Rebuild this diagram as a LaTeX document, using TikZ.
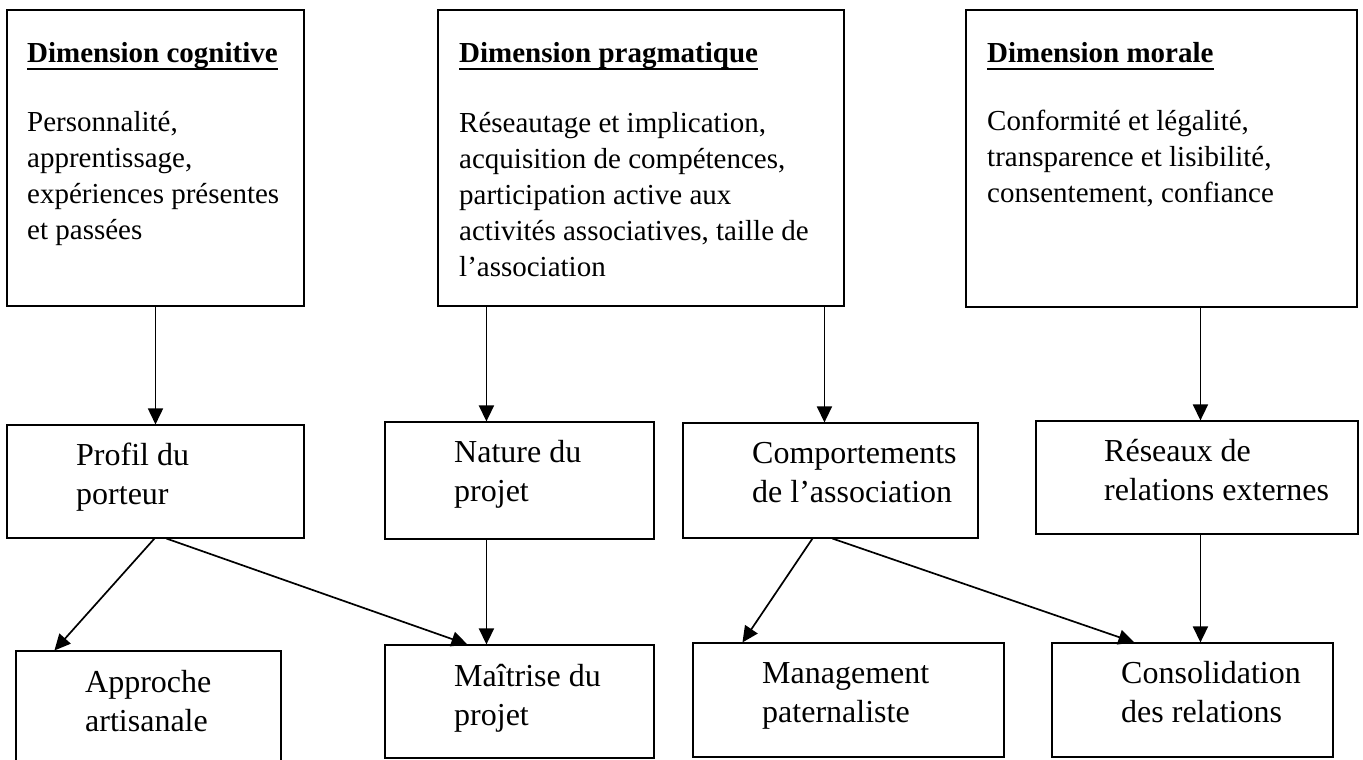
\documentclass[tikz,border=0pt]{standalone}
\usepackage{fontspec}
\setmainfont{Liberation Serif}
\usepackage{tikz}
\usetikzlibrary{arrows.meta}
\newcommand{\souligne}[1]{\setbox0\hbox{#1}\rlap{\rule[-7.5pt]{\wd0}{2.5pt}}\box0}

\begin{document}
\begin{tikzpicture}[x=1pt,y=-1pt]
      \useasboundingbox(0,0) rectangle (1363,760);
      \tikzset{B/.style = {shape=rectangle, draw, line width=1.1pt, inner sep=0pt}}
      \tikzset{T/.style = {anchor=base west, inner sep=0pt, align=left, font=\fontsize{29}{36}\selectfont}}
      \tikzset{L/.style = {anchor=base west, inner sep=0pt, align=left, font=\fontsize{32}{39}\selectfont}}
      \tikzset{E/.style = {draw, line width=1.7pt, -{Triangle[length=16pt,width=15pt]}}}
      % dimensions
      \node[B, minimum width=297pt, minimum height=296pt](cog) at (155.5,158) {};
      \node[B, minimum width=406pt, minimum height=296pt](prag) at (641,158) {};
      \node[B, minimum width=391pt, minimum height=297pt](mor) at (1161.5,158.5) {};
      \node[T](cogt) at (27,63) {\souligne{\textbf{Dimension cognitive}}};
      \node[T](pragt) at (459,63) {\souligne{\textbf{Dimension pragmatique}}};
      \node[T](mort) at (987,63) {\souligne{\textbf{Dimension morale}}};
      % (base = derniere ligne)
      \node[T](cogb) at (27,239) {Personnalité,\\apprentissage,\\expériences présentes\\et passées};
      \node[T](pragb) at (459,276) {Réseautage et implication,\\acquisition de compétences,\\participation active aux\\activités associatives, taille de\\l’association};
      \node[T](morb) at (987,202) {Conformité et légalité,\\transparence et lisibilité,\\consentement, confiance};
      % facteurs
      \node[B, minimum width=297pt, minimum height=113pt](prof) at (155.5,481.5) {};
      \node[B, minimum width=269pt, minimum height=117pt](nat) at (519.5,480.5) {};
      \node[B, minimum width=295pt, minimum height=115pt](comp) at (830.5,480.5) {};
      \node[B, minimum width=322pt, minimum height=113pt](res) at (1197,477.5) {};
      \node[L](proft) at (76,504) {Profil du\\porteur};
      \node[L](natt) at (454,501) {Nature du\\projet};
      \node[L](compt) at (752,502) {Comportements\\de l’association};
      \node[L](rest) at (1104,500) {Réseaux de\\relations externes};
      % effets
      \node[B, minimum width=265pt, minimum height=110pt](appr) at (148.5,706) {};
      \node[B, minimum width=269pt, minimum height=113pt](mait) at (519.5,701.5) {};
      \node[B, minimum width=311pt, minimum height=114pt](mgmt) at (848.5,700) {};
      \node[B, minimum width=281pt, minimum height=114pt](cons) at (1192.5,700) {};
      \node[L](apprt) at (85,731) {Approche\\artisanale};
      \node[L](maitt) at (454,725) {Maîtrise du\\projet};
      \node[L](mgmtt) at (762,722) {Management\\paternaliste};
      \node[L](const) at (1121,722) {Consolidation\\des relations};
      % fleches
      \draw[E](cog.south) to (prof.north);
      \draw[E]([xshift=49pt]prag.south west) to ([xshift=102pt]nat.north west);
      \draw[E]([xshift=387pt]prag.south west) to ([xshift=142pt]comp.north west);
      \draw[E]([xshift=235pt]mor.south west) to ([xshift=165pt]res.north west);
      \draw[E]([xshift=148pt]prof.south west) to ([xshift=39pt]appr.north west);
      \draw[E]([xshift=160pt]prof.south west) to ([xshift=83pt]mait.north west);
      \draw[E]([xshift=102pt]nat.south west) to ([xshift=102pt]mait.north west);
      \draw[E]([xshift=130pt]comp.south west) to ([xshift=50pt]mgmt.north west);
      \draw[E]([xshift=150pt]comp.south west) to ([xshift=83pt]cons.north west);
      \draw[E]([xshift=165pt]res.south west) to ([xshift=149pt]cons.north west);
\end{tikzpicture}
\end{document}
